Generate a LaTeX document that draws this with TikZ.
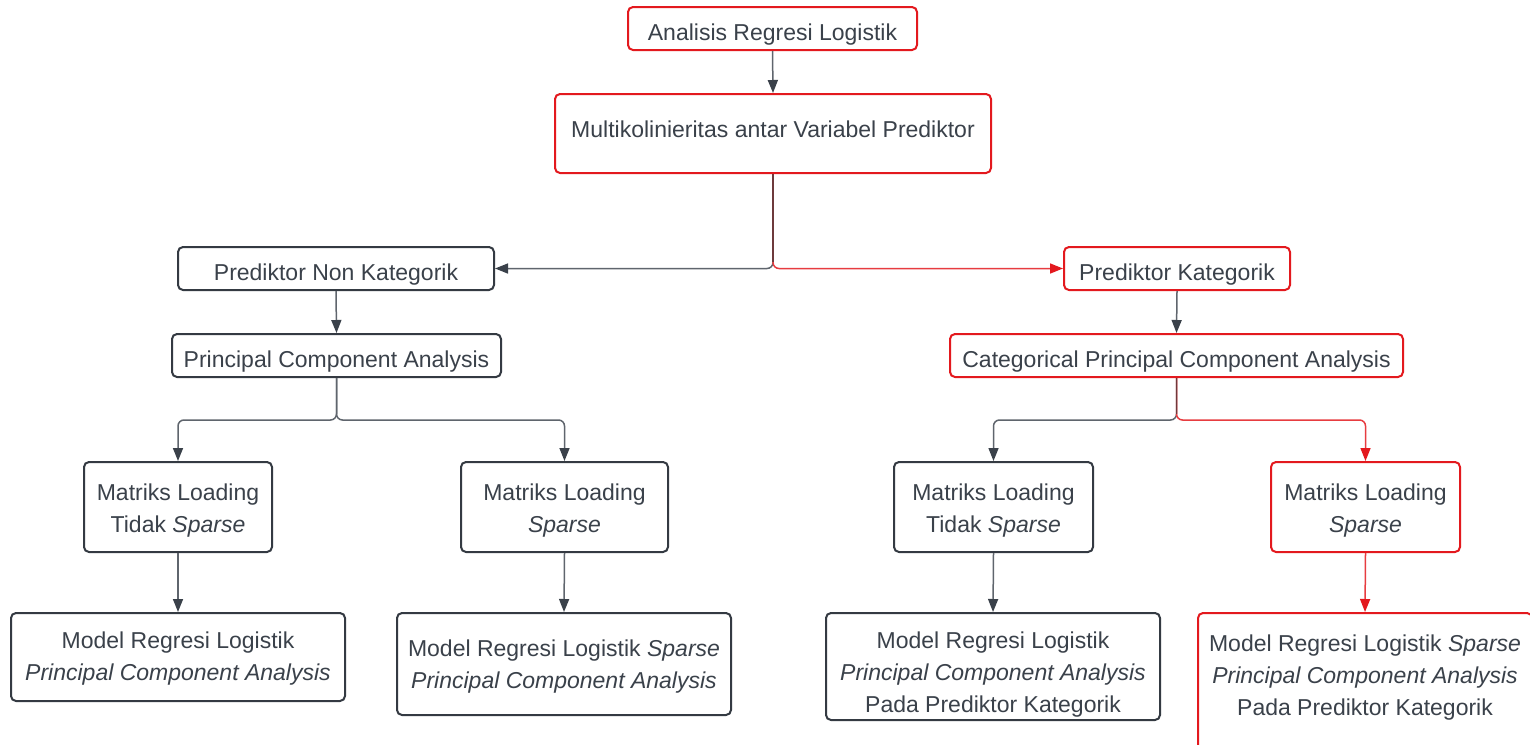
\documentclass[tikz,border=0pt]{standalone}
\usepackage{fontspec}
\setmainfont{Liberation Sans}
\usetikzlibrary{arrows.meta}
\definecolor{txt}{HTML}{3A414A}
\definecolor{dbord}{HTML}{343A42}
\definecolor{rbord}{HTML}{E3191E}
\definecolor{dline}{HTML}{5F656D}
\definecolor{tline}{HTML}{6E3A3C}
\tikzset{
  box/.style={draw=dbord, line width=2pt, rounded corners=5pt, fill=white, inner sep=0pt},
  rbox/.style={box, draw=rbord},
  lbl/.style={text=txt, align=center, inner sep=0pt, font=\fontsize{23}{32}\selectfont},
  dconn/.style={draw=dline, line width=1.5pt, rounded corners=6pt,
    arrows={-{Triangle[length=13pt,width=10pt,fill=txt,color=txt]}}},
  rconn/.style={draw=rbord!85, line width=1.5pt, rounded corners=6pt,
    arrows={-{Triangle[length=13pt,width=10pt,fill=rbord,color=rbord]}}},
  trunk/.style={draw=tline, line width=1.5pt},
}
\begin{document}
\begin{tikzpicture}[x=1pt,y=-1pt]
\useasboundingbox[fill=white] (0,0) rectangle (1530,744);
% boxes
\node[rbox, minimum width=289pt, minimum height=43pt] (ars) at (772.5,28.5) {};
\node[rbox, minimum width=436pt, minimum height=79pt] (mk) at (773,133.5) {};
\node[box, minimum width=316pt, minimum height=43pt] (pnk) at (336,268.5) {};
\node[rbox, minimum width=226pt, minimum height=43pt] (pk) at (1177,268.5) {};
\node[box, minimum width=329pt, minimum height=43pt] (pca) at (336.5,355.5) {};
\node[rbox, minimum width=453pt, minimum height=43pt] (cpca) at (1176.5,355.5) {};
\node[box, minimum width=188pt, minimum height=90pt] (m1) at (178,507) {};
\node[box, minimum width=207pt, minimum height=90pt] (m2) at (564.5,507) {};
\node[box, minimum width=199pt, minimum height=90pt] (m3) at (993.5,507) {};
\node[rbox, minimum width=189pt, minimum height=90pt] (m4) at (1365.5,507) {};
\node[box, minimum width=334pt, minimum height=88pt] (r1) at (178,657) {};
\node[box, minimum width=334pt, minimum height=102pt] (r2) at (564,664) {};
\node[box, minimum width=334pt, minimum height=107pt] (r3) at (993,666.5) {};
\node[rbox, minimum width=334pt, minimum height=139pt] (r4) at (1365,682.5) {};
% texts
\node[lbl] (ars-t) at ([yshift=-6pt]ars.center) {Analisis Regresi Logistik};
\node[lbl] (mk-t) at ([yshift=4pt]mk.center) {Multikolinieritas antar Variabel Prediktor};
\node[lbl] (pnk-t) at ([yshift=-6pt]pnk.center) {Prediktor Non Kategorik};
\node[lbl] (pk-t) at ([yshift=-6pt]pk.center) {Prediktor Kategorik};
\node[lbl] (pca-t) at ([yshift=-6pt]pca.center) {Principal Component Analysis};
\node[lbl] (cpca-t) at ([yshift=-6pt]cpca.center) {Categorical Principal Component Analysis};
\node[lbl] (m1-t) at ([yshift=-4pt]m1.center) {Matriks Loading\\Tidak \textit{Sparse}};
\node[lbl] (m2-t) at ([yshift=-4pt]m2.center) {Matriks Loading\\\textit{Sparse}};
\node[lbl] (m3-t) at ([yshift=-4pt]m3.center) {Matriks Loading\\Tidak \textit{Sparse}};
\node[lbl] (m4-t) at ([yshift=-4pt]m4.center) {Matriks Loading\\\textit{Sparse}};
\node[lbl] (r1-t) at ([yshift=-2pt]r1.center) {Model Regresi Logistik\\\textit{Principal Component Analysis}};
\node[lbl] (r2-t) at ([yshift=-3pt]r2.center) {Model Regresi Logistik \textit{Sparse}\\\textit{Principal Component Analysis}};
\node[lbl] (r3-t) at ([yshift=-8.5pt]r3.center) {Model Regresi Logistik\\\textit{Principal Component Analysis}\\Pada Prediktor Kategorik};
\node[lbl] (r4-t) at ([yshift=4.5pt]r4.center) {Model Regresi Logistik \textit{Sparse}\\\textit{Principal Component Analysis}\\Pada Prediktor Kategorik};
% junction coordinates
\coordinate (t0) at (773,262);
\coordinate (j5) at (336.5,420);
\coordinate (j6) at (1176.5,420);
\coordinate (t6) at (1176.5,414);
% connectors
\draw[dconn] (ars.south) -- (mk.north);
\draw[dconn] (mk.south) |- (pnk.east);
\draw[rconn] (mk.south) |- (pk.west);
\draw[trunk] (mk.south) -- (t0);
\draw[dconn] (pnk.south) -- (pca.north);
\draw[dconn] (pk.south) -- (cpca.north);
\draw[dconn] (pca.south) -- (j5) -| (m1.north);
\draw[dconn] (pca.south) -- (j5) -| (m2.north);
\draw[dconn] (cpca.south) -- (j6) -| (m3.north);
\draw[rconn] (cpca.south) -- (j6) -| (m4.north);
\draw[trunk] (cpca.south) -- (t6);
\draw[dconn] (m1.south) -- (r1.north);
\draw[dconn] (m2.south) -- (r2.north);
\draw[dconn] (m3.south) -- (r3.north);
\draw[rconn] (m4.south) -- (r4.north);
\end{tikzpicture}
\end{document}
